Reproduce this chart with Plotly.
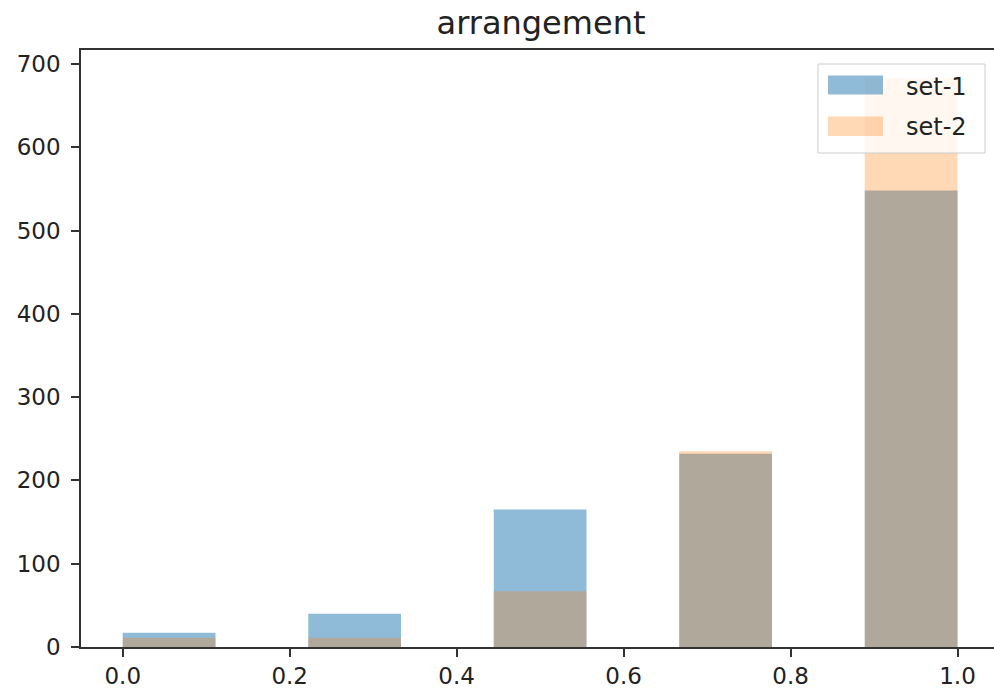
import numpy as np
import plotly.graph_objects as go

# Observed values and how often each occurs in the two sets
values = [0.0, 0.25, 0.5, 0.75, 1.0]
set1_counts = [17, 40, 165, 232, 548]
set2_counts = [11, 11, 67, 235, 683]
series_names = ["set-1", "set-2"]
x_ticks = [0.0, 0.2, 0.4, 0.6, 0.8, 1.0]
y_ticks = [0, 100, 200, 300, 400, 500, 600, 700]

# Histogram binning: 9 equal bins over [0, 1]
n_bins = 9
edges = np.linspace(0.0, 1.0, n_bins + 1)
bin_width = edges[1] - edges[0]
bin_idx = np.clip(np.searchsorted(edges, values, side="right") - 1, 0, n_bins - 1)
bin_left = edges[bin_idx]

W, H = 994, 698
ML, MR, MT, MB = 81, 0, 50, 51
PW, PH = W - ML - MR, H - MT - MB


def px(x):
    return (x - ML) / PW


def py(y):
    return (H - MB - y) / PH


BLUE = "rgba(31,119,180,0.5)"
ORANGE = "rgba(255,127,14,0.3)"
TXT = "#222222"
FONT = "DejaVu Sans"

fig = go.Figure()
for name, counts, color in [(series_names[0], set1_counts, BLUE),
                            (series_names[1], set2_counts, ORANGE)]:
    fig.add_trace(go.Bar(
        x=bin_left, y=counts, width=bin_width, offset=0,
        name=name, marker=dict(color=color, line=dict(width=0)),
        showlegend=False,
    ))

# Legend box drawn in the top-right corner
shapes = [
    dict(type="rect", xref="paper", yref="paper",
         x0=px(818), x1=px(985), y0=py(153), y1=py(64),
         fillcolor="rgba(255,255,255,0.8)",
         line=dict(color="#cccccc", width=1), layer="above"),
    dict(type="rect", xref="paper", yref="paper",
         x0=px(828), x1=px(883), y0=py(94.5), y1=py(75.5),
         fillcolor=BLUE, line=dict(width=0), layer="above"),
    dict(type="rect", xref="paper", yref="paper",
         x0=px(828), x1=px(883), y0=py(136), y1=py(116.5),
         fillcolor=ORANGE, line=dict(width=0), layer="above"),
]
annotations = [
    dict(text=series_names[0], xref="paper", yref="paper", x=px(904), y=py(87),
         xanchor="left", yanchor="middle", showarrow=False,
         font=dict(family=FONT, size=24, color=TXT)),
    dict(text=series_names[1], xref="paper", yref="paper", x=px(904), y=py(127),
         xanchor="left", yanchor="middle", showarrow=False,
         font=dict(family=FONT, size=24, color=TXT)),
]

fig.update_layout(
    width=W, height=H,
    margin=dict(l=ML, r=MR, t=MT, b=MB, pad=0),
    paper_bgcolor="white", plot_bgcolor="white",
    barmode="overlay",
    title=dict(text="arrangement", x=px(541), xref="paper", xanchor="center",
               y=1 - 23 / H, yanchor="middle",
               font=dict(family=FONT, size=32, color=TXT)),
    font=dict(family=FONT, color=TXT),
    shapes=shapes, annotations=annotations,
    xaxis=dict(range=[-0.05, 1.0437], tickvals=x_ticks, tickformat=".1f",
               showgrid=False, zeroline=False,
               showline=True, mirror=True, linecolor="#333333", linewidth=1.6,
               ticks="outside", ticklen=8, tickwidth=1.6, tickcolor="#333333",
               tickfont=dict(family=FONT, size=23, color=TXT)),
    yaxis=dict(range=[0, 716.8], tickvals=y_ticks,
               showgrid=False, zeroline=False,
               showline=True, mirror=False, linecolor="#333333", linewidth=1.6,
               ticks="outside", ticklen=8, tickwidth=1.6, tickcolor="#333333",
               ticklabelstandoff=6,
               tickfont=dict(family=FONT, size=23, color=TXT)),
)

fig.write_html("out.html")
